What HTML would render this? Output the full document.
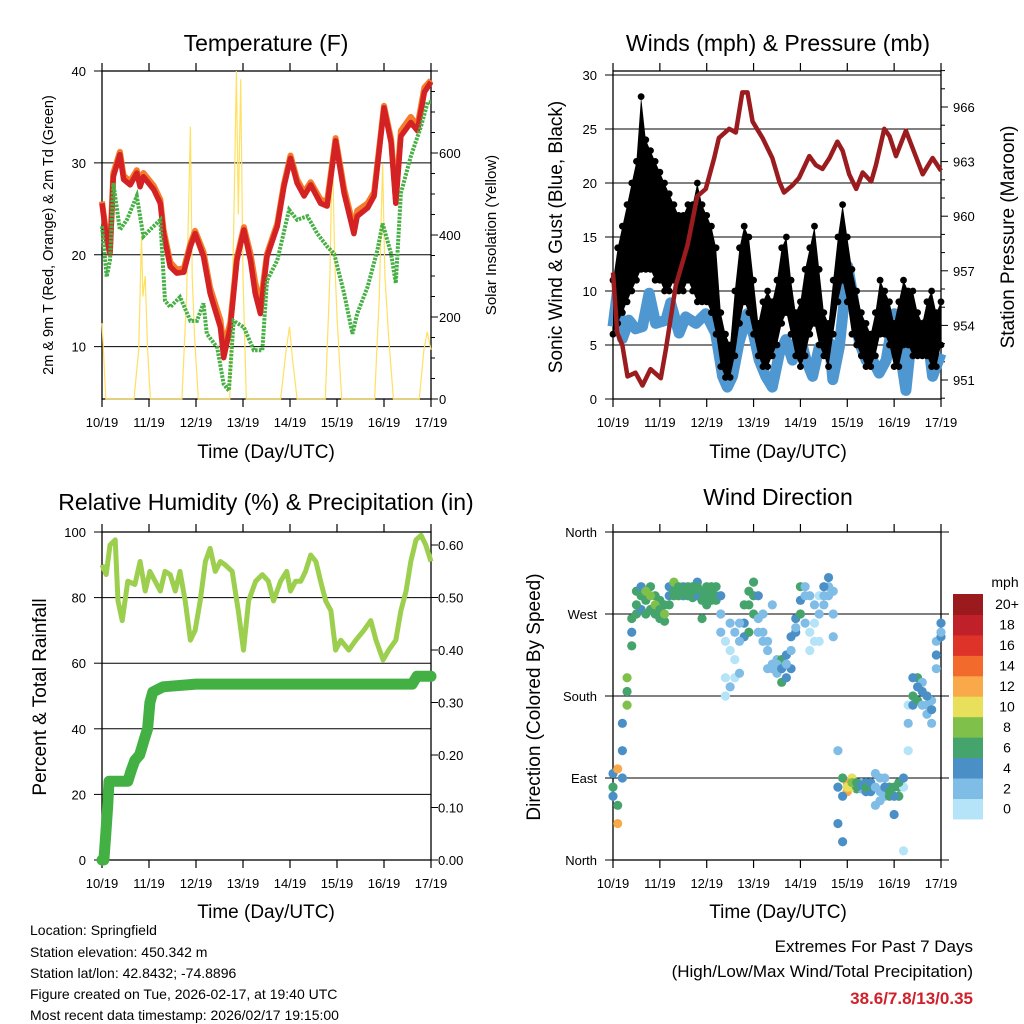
<!DOCTYPE html>
<html><head><meta charset="utf-8">
<style>
html,body{margin:0;padding:0;background:#fff;}
svg{display:block;font-family:"Liberation Sans",Arial,sans-serif;}
</style></head>
<body>
<svg id="c" width="1024" height="1024" viewBox="0 0 1024 1024" xmlns="http://www.w3.org/2000/svg">
<rect width="1024" height="1024" fill="#fff"/>
<text x="266" y="51" font-size="23" text-anchor="middle">Temperature (F)</text>
<text x="778" y="51" font-size="23" text-anchor="middle">Winds (mph) &amp; Pressure (mb)</text>
<text x="266" y="510" font-size="23" text-anchor="middle">Relative Humidity (%) &amp; Precipitation (in)</text>
<text x="778" y="505" font-size="23" text-anchor="middle">Wind Direction</text>
<text x="266" y="458" font-size="19" text-anchor="middle">Time (Day/UTC)</text>
<text x="778" y="458" font-size="19" text-anchor="middle">Time (Day/UTC)</text>
<text x="266" y="918" font-size="19" text-anchor="middle">Time (Day/UTC)</text>
<text x="778" y="918" font-size="19" text-anchor="middle">Time (Day/UTC)</text>
<text transform="translate(53,235) rotate(-90)" font-size="14.5" text-anchor="middle">2m &amp; 9m T (Red, Orange) &amp; 2m Td (Green)</text>
<text transform="translate(496,235) rotate(-90)" font-size="15" text-anchor="middle">Solar Insolation (Yellow)</text>
<text transform="translate(562,237) rotate(-90)" font-size="19" text-anchor="middle">Sonic Wind &amp; Gust (Blue, Black)</text>
<text transform="translate(1014,237) rotate(-90)" font-size="19" text-anchor="middle">Station Pressure (Maroon)</text>
<text transform="translate(46,697) rotate(-90)" font-size="19" text-anchor="middle">Percent &amp; Total Rainfall</text>
<text transform="translate(540,697) rotate(-90)" font-size="19" text-anchor="middle">Direction (Colored By Speed)</text>
<g font-size="14">
<text x="30" y="935">Location: Springfield</text>
<text x="30" y="957">Station elevation: 450.342 m</text>
<text x="30" y="978">Station lat/lon: 42.8432; -74.8896</text>
<text x="30" y="999">Figure created on Tue, 2026-02-17, at 19:40 UTC</text>
<text x="30" y="1020">Most recent data timestamp: 2026/02/17 19:15:00</text>
</g>
<g font-size="17" text-anchor="end">
<text x="973" y="952">Extremes For Past 7 Days</text>
<text x="973" y="977">(High/Low/Max Wind/Total Precipitation)</text>
<text x="973" y="1004" fill="#d0202a" font-weight="bold">38.6/7.8/13/0.35</text>
</g>
</svg>
<script>
const dayLabels=["10/19","11/19","12/19","13/19","14/19","15/19","16/19","17/19"];
// Temperature
const tRedT=[0,.10,.17,.24,.38,.46,.60,.74,.81,.88,1.10,1.24,1.31,1.45,1.59,1.74,1.88,1.98,2.16,2.30,2.52,2.59,2.73,2.87,3.02,3.16,3.26,3.37,3.51,3.73,3.87,4.01,4.15,4.30,4.44,4.65,4.79,4.97,5.15,5.36,5.43,5.65,5.79,6.0,6.15,6.25,6.36,6.57,6.71,6.86,7.0];
const tRedV=[25.6,21.6,20.1,28.5,30.9,28.2,27.6,28.9,27.4,28.5,27.1,25.6,22.3,18.7,18,18.1,20.9,22.3,19.8,15.8,12.1,8.8,12.1,19.4,22.7,19.4,15.8,13.6,19.8,23.1,27.4,30.5,27.8,26.4,27.6,25.6,25.3,32.4,26.7,22.3,24.2,25.1,26.4,36.0,32.2,25.6,32.9,34.4,33.5,37.7,38.8];
const tOrgV=[25.8,21.9,20.4,28.9,31.2,28.6,28.0,29.2,27.8,28.9,27.5,26.0,22.7,19.2,18.4,18.5,21.2,22.6,20.3,16.4,12.9,10.0,12.6,19.7,23.0,20.1,17.0,14.5,20.1,23.4,27.7,30.8,28.2,26.8,27.9,26.0,25.8,32.7,27.2,22.9,24.8,25.6,26.8,36.2,32.6,26.1,33.5,35.0,34.0,38.2,39.0];
const tDewT=[0,.10,.17,.24,.38,.53,.74,.88,1.02,1.24,1.34,1.45,1.66,1.88,2.02,2.16,2.23,2.45,2.59,2.70,2.80,3.02,3.23,3.41,3.51,3.73,3.98,4.15,4.37,4.58,4.79,4.94,5.15,5.33,5.43,5.65,5.86,5.97,6.15,6.25,6.36,6.57,6.79,6.93,7.0];
const tDewV=[23.1,17.6,19.4,27.8,22.7,23.8,26.4,22.0,22.7,23.8,15.0,14.3,15.4,12.8,12.8,14.7,11.4,9.9,5.9,5.2,12.8,12.1,9.6,9.6,17.2,19.4,24.9,23.8,24.2,22.3,20.9,20.1,15.8,11.4,13.6,16.5,20.5,23.4,20.1,16.9,26.7,30.7,34.0,36.6,36.6];
const solarT=[0,.03,.08,.68,.78,.84,.87,.92,.97,1.03,1.7,1.8,1.88,1.92,1.97,2.05,2.72,2.8,2.86,2.9,2.95,3.0,3.07,3.8,3.92,3.99,4.05,4.15,4.75,4.85,4.9,4.95,5.0,5.1,5.8,5.9,5.97,6.02,6.1,6.2,6.75,6.85,6.92,7.0];
const solarV=[185,120,0,0,120,396,250,300,120,0,0,250,664,300,150,0,0,400,800,450,780,300,0,0,120,176,100,0,0,300,624,350,200,0,0,250,575,300,150,0,0,120,164,120];
const tLeftTicks=[10,20,30,40];
const solarTicks=[0,200,400,600];
// Winds
const presT=[0,.09,.2,.31,.48,.63,.80,1.02,1.13,1.34,1.59,1.80,1.98,2.16,2.26,2.48,2.62,2.76,2.87,2.98,3.19,3.40,3.55,3.65,3.83,3.97,4.19,4.33,4.47,4.62,4.79,4.90,5.04,5.19,5.33,5.51,5.61,5.79,5.90,6.04,6.25,6.43,6.61,6.82,7.0];
const presV=[956.9,953.6,952.9,951.2,951.4,950.7,951.6,951.1,952.7,956.2,958.4,961.1,961.5,963.2,964.3,964.8,964.6,966.8,966.8,965.2,964.3,963.2,961.9,961.3,961.7,962.1,963.3,962.8,962.6,963.2,964.1,963.6,962.3,961.5,962.4,961.9,962.8,964.8,964.4,963.3,964.7,963.5,962.3,963.2,962.5];
const windT=[0,.09,.2,.34,.48,.63,.77,.91,1.13,1.23,1.41,1.55,1.77,1.98,2.19,2.34,2.44,2.55,2.69,2.87,3.01,3.12,3.26,3.40,3.55,3.69,3.83,3.97,4.12,4.26,4.40,4.62,4.69,4.83,5.01,5.11,5.26,5.40,5.54,5.68,5.83,6.0,6.11,6.25,6.40,6.54,6.68,6.82,7.0];
const windV=[6.7,9.8,5.6,7.3,6.5,6.7,9.8,7.0,7.3,8.9,6.1,7.6,7.0,7.9,6.1,2.1,1.1,2.1,5.2,7.9,5.8,3.6,2.1,1.1,4.2,5.5,3.6,6.1,3.6,2.1,4.8,5.2,1.8,4.8,12.3,9.8,5.2,3.6,3.6,2.4,3.6,7.9,4.8,0.8,7.0,5.2,7.0,2.1,4.2];
const gustHi=[11,14,16,18,20,22,28,24,23,22,21,20,19,18,17,17,18,18,20,18,17,16,14,8,6,5,10,14,16,15,11,7,9,10,9,11,14,15,11,8,9,12,14,16,12,8,7,11,15,18,15,12,10,8,7,6,8,11,10,9,7,9,11,10,10,8,7,9,10,8,9];
const gustLo=[6,7,8,9,10,11,12,12,12,11,11,10,10,11,10,10,11,10,9,9,9,8,6,3,2,2,4,7,9,8,6,4,3,3,4,5,7,8,6,4,3,4,6,7,5,4,3,6,9,11,9,6,5,4,3,3,4,6,6,5,3,3,5,5,4,4,4,4,3,3,5];
const windTicks=[0,5,10,15,20,25,30];
const presTicks=[951,954,957,960,963,966];
// RH & precip
const rhT=[0,.09,.17,.28,.34,.43,.55,.70,.81,.92,1.02,1.13,1.24,1.34,1.45,1.56,1.66,1.77,1.88,1.98,2.09,2.20,2.30,2.41,2.52,2.62,2.77,2.90,3.01,3.12,3.27,3.41,3.54,3.65,3.80,3.93,4.01,4.12,4.23,4.33,4.44,4.55,4.65,4.76,4.87,4.97,5.08,5.25,5.40,5.57,5.72,5.83,5.98,6.10,6.25,6.36,6.47,6.57,6.68,6.79,6.89,7.0];
const rhV=[90,87,96,97.6,79,73,85,84,91,82,88,85,82,88,87,82,88,79,67,70,79,91,95,88,91,90,88,76,64,79,85,87,85,79,85,88,82,85,85,88,93,91,85,79,76,64,67,64,67,70,73,67,61,64,67,76,82,91,97.6,99,96,91];
const prT=[0,.04,.08,.12,.15,.55,.62,.7,.8,.9,.97,1.02,1.08,1.3,2.0,6.6,6.7,7.0];
const prV=[0,0,.05,.10,.15,.15,.17,.19,.20,.23,.25,.30,.32,.33,.335,.335,.35,.35];
const rhTicks=[0,20,40,60,80,100];
const prTicks=[0,.1,.2,.3,.4,.5,.6];
// Wind direction (0.1 day steps)
const dirA=[80,60,120,185,250,280,290,295,290,280,275,270,280,305,300,295,300,295,300,295,300,295,290,290,240,230,250,260,280,295,305,290,270,240,215,215,210,215,230,255,285,290,290,280,270,300,310,295,120,90,80,85,85,82,80,85,80,75,80,75,80,85,90,150,180,190,185,180,165,225,250];
const dirB=[95,100,150,200,235,295,300,285,300,270,265,280,300,295,290,300,290,300,290,285,290,285,300,250,200,190,220,240,260,280,290,265,250,230,210,205,195,200,210,250,270,300,250,260,240,290,300,270,80,70,85,80,80,85,85,80,95,90,90,80,70,80,80,120,200,175,170,170,175,240,245];
const dirC=[70,40,90,170,265,270,275,270,275,290,285,262,290,290,295,290,295,288,305,265,280,300,285,270,180,260,200,205,245,250,270,250,240,210,280,220,220,225,245,265,300,260,230,240,290,280,290,245,40,20,75,90,78,78,75,75,60,65,70,70,50,70,10,170,170,200,195,160,150,210,260];
const spdA=[6,6,4,7,4,6,6,8,9,8,7,8,7,8,7,6,6,7,6,6,7,6,7,4,1,1,3,3,6,6,7,5,3,3,3,3,4,3,3,3,4,3,2,2,2,4,4,3,3,7,10,8,7,5,6,4,3,3,4,6,6,6,4,2,6,4,4,4,4,4,3];
const spdB=[4,12,4,9,6,6,5,6,7,6,6,6,5,6,6,5,7,6,5,7,6,7,6,2,0,2,1,2,4,6,6,3,2,2,2,2,6,4,4,5,6,2,1,1,1,3,3,2,4,4,12,11,6,3,4,4,2,2,2,6,4,7,1,1,4,6,3,3,3,3,4];
const spdLabels=["0","2","4","6","8","10","12","14","16","18","20+"];
const spdColors=["#b5e3f8","#7fbce6","#4a90c6","#45a46b","#7ec04a","#e8e05a","#f9a94a","#f26a2c","#de3329","#c0202a","#9b1a1e"];
const dirLabels=["North","East","South","West","North"];

const svg=document.getElementById('c');
const NS="http://www.w3.org/2000/svg";
function el(tag,attrs,parent){const e=document.createElementNS(NS,tag);for(const k in attrs)e.setAttribute(k,attrs[k]);(parent||svg).appendChild(e);return e;}
function txt(s,x,y,size,anchor,parent){const t=el('text',{x:x,y:y,'font-size':size,'text-anchor':anchor},parent);t.textContent=s;return t;}
function pts(ts,vs,sx,sy){return ts.map((t,i)=>sx(t).toFixed(1)+','+sy(vs[i]).toFixed(1)).join(' ');}

function frame(name,x0,x1,y0,y1){
  const g=el('g',{});
  
  
  el('rect',{x:x0,y:y0,width:x1-x0,height:y1-y0,fill:'none',stroke:'#000','stroke-width':1.3},g);
  for(let i=0;i<8;i++){
    const x=x0+i*(x1-x0)/7;
    el('line',{x1:x,y1:y1,x2:x,y2:y1+8,stroke:'#000','stroke-width':1.2},g);
    el('line',{x1:x,y1:y0,x2:x,y2:y0-8,stroke:'#000','stroke-width':1.2},g);
    const t=txt(dayLabels[i],x,y1+28,13,'middle',g);
    
    
  }
  return g;
}
function hgrid(g,y,x0,x1){el('line',{x1:x0,y1:y,x2:x1,y2:y,stroke:'#000','stroke-width':1},g);}

// ---------- Temperature panel
(function(){
  const x0=102,x1=431,y0=71,y1=399;
  const sx=d=>x0+d*(x1-x0)/7;
  const sy=v=>399-(v-4.3)*(328/35.7);
  const sy2=v=>399-v*(328/800);
  const g=frame('temperature',x0,x1,y0,y1);
  tLeftTicks.forEach(v=>{
    if(v<40)hgrid(g,sy(v),x0,x1);
    el('line',{x1:x0-8,y1:sy(v),x2:x0,y2:sy(v),stroke:'#000'},g);
    const t=txt(String(v),x0-16,sy(v)+5,13,'end',g);
    
    
  });
  for(let v=0;v<=800;v+=50){el('line',{x1:x1,y1:sy2(v),x2:x1+(v%200?4:7),y2:sy2(v),stroke:'#000'},g);}
  solarTicks.forEach(v=>{
    const t=txt(String(v),x1+8,sy2(v)+5,13,'start',g);
    
    
  });
  const s=el('polyline',{points:pts(solarT,solarV,sx,sy2),fill:'none',stroke:'#ffe060','stroke-width':1.2});
  
  
  const o=el('polyline',{points:pts(tRedT,tOrgV,sx,sy),fill:'none',stroke:'#f47c2a','stroke-width':6,'stroke-linejoin':'round'});
  
  
  const r=el('polyline',{points:pts(tRedT,tRedV,sx,sy),fill:'none',stroke:'#d42224','stroke-width':5.5,'stroke-linejoin':'round'});
  
  
  const d=el('polyline',{points:pts(tDewT,tDewV,sx,sy),fill:'none',stroke:'#46b045','stroke-width':4,'stroke-dasharray':'2.5 1.2'});
  
  
})();

// ---------- Winds panel
(function(){
  const x0=613,x1=941,y0=71,y1=399;
  const sx=d=>x0+d*(x1-x0)/7;
  const sy=v=>399-v*10.8;
  const sp=v=>380-(v-951)*18.2;
  const g=frame('winds',x0,x1,y0,y1);
  windTicks.forEach(v=>{
    if(v>0)hgrid(g,sy(v),x0,x1);
    el('line',{x1:x0-8,y1:sy(v),x2:x0,y2:sy(v),stroke:'#000'},g);
    const t=txt(String(v),x0-16,sy(v)+5,13,'end',g);
    
    
  });
  for(let v=950;v<=968;v++){el('line',{x1:x1,y1:sp(v),x2:x1+((v-951)%3?4:7),y2:sp(v),stroke:'#000'},g);}
  presTicks.forEach(v=>{
    const t=txt(String(v),x1+12,sp(v)+5,13,'start',g);
    
    
  });
  const w=el('polyline',{points:pts(windT,windV,sx,sy),fill:'none',stroke:'#4f97d0','stroke-width':11,'stroke-linejoin':'round'});
  
  
  const gg=el('g',{});
  
  
  const idx=gustHi.map((h,i)=>i/10);
  const poly=pts(idx,gustHi,sx,sy)+' '+pts(idx.slice().reverse(),gustLo.slice().reverse(),sx,sy);
  el('polygon',{points:poly,fill:'#000'},gg);
  gustHi.forEach((h,i)=>{
    const x=sx(i/10);
    const c=el('circle',{cx:x,cy:sy(h),r:3.4,fill:'#000'},gg);
    
    
    el('circle',{cx:x,cy:sy(gustLo[i]),r:3.4,fill:'#000'},gg);
  });
  const p=el('polyline',{points:pts(presT,presV,sx,sp),fill:'none',stroke:'#9b1c1f','stroke-width':4.5,'stroke-linejoin':'round'});
  
  
  el('line',{x1:x0,y1:75,x2:x1,y2:75,stroke:'#000','stroke-width':1},g);
})();

// ---------- RH panel
(function(){
  const x0=102,x1=431,y0=532,y1=860;
  const sx=d=>x0+d*(x1-x0)/7;
  const sy=v=>860-v*3.28;
  const sp=v=>860-v*525;
  const g=frame('humidity',x0,x1,y0,y1);
  rhTicks.forEach(v=>{
    if(v>0&&v<100)hgrid(g,sy(v),x0,x1);
    el('line',{x1:x0-8,y1:sy(v),x2:x0,y2:sy(v),stroke:'#000'},g);
    const t=txt(String(v),x0-16,sy(v)+5,13,'end',g);
    
    
  });
  prTicks.forEach(v=>{
    el('line',{x1:x1,y1:sp(v),x2:x1+7,y2:sp(v),stroke:'#000'},g);
    const t=txt(v.toFixed(2),x1+7,sp(v)+5,13,'start',g);
    
    
  });
  const p=el('polyline',{points:pts(prT,prV,sx,sp),fill:'none',stroke:'#43b043','stroke-width':11,'stroke-linejoin':'round','stroke-linecap':'round'});
  
  
  const r=el('polyline',{points:pts(rhT,rhV,sx,sy),fill:'none',stroke:'#9ccf4e','stroke-width':5,'stroke-linejoin':'round'});
  
  
})();

// ---------- Wind direction panel
(function(){
  const x0=613,x1=941,y0=532,y1=860;
  const sx=d=>x0+d*(x1-x0)/7;
  const sy=v=>860-v*(328/360);
  const g=frame('wind-direction',x0,x1,y0,y1);
  dirLabels.forEach((l,i)=>{
    const y=sy(i*90);
    if(i>0&&i<4)hgrid(g,y,x0,x1);
    el('line',{x1:x0-8,y1:y,x2:x0,y2:y,stroke:'#000'},g);
    el('line',{x1:x1,y1:y,x2:x1+8,y2:y,stroke:'#000'},g);
    const t=txt(l,x0-16,y+5,13,'end',g);
    
    
  });
  const col=s=>spdColors[Math.max(0,Math.min(10,Math.floor(s/2)))];
  const gp=el('g',{});
  
  
  [[dirC,spdB],[dirB,spdB],[dirA,spdA]].forEach(([ds,ss])=>{
    ds.forEach((d,i)=>{
      const c=el('circle',{cx:sx(i/10),cy:sy(d),r:4.6,fill:col(ss[i])},gp);
      
      
    });
  });
  // colorbar
  const cb=el('g',{});
  
  
  const bx=953,bw=30,btop=594,bh=20.45;
  spdColors.forEach((c,i)=>{
    const y=btop+(10-i)*bh;
    const r=el('rect',{x:bx,y:y,width:bw,height:bh+0.5,fill:c},cb);
    
    
    const t=txt(spdLabels[i],1007,y+bh/2+5,14,'middle',cb);
    
    
  });
  const m=txt('mph',1005,587,14,'middle',cb);
  
  
})();
</script>
</body></html>
